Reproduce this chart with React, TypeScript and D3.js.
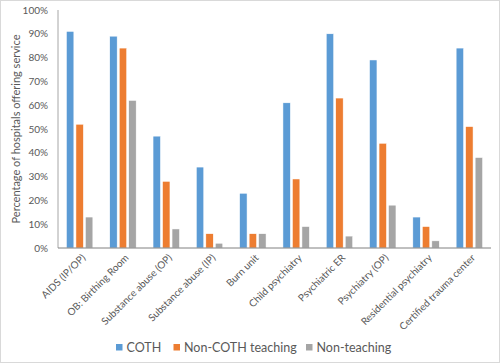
import React, { useRef, useEffect } from 'react';
import * as d3 from 'd3';

const categories = [
  'AIDS (IP/OP)',
  'OB: Birthing Room',
  'Substance abuse (OP)',
  'Substance abuse (IP)',
  'Burn unit',
  'Child psychiatry',
  'Psychiatric ER',
  'Psychiatry (OP)',
  'Residential psychiatry',
  'Certified trauma center',
];
const seriesNames = ['COTH', 'Non-COTH teaching', 'Non-teaching'];
const coth = [91, 89, 47, 34, 23, 61, 90, 79, 13, 84];
const nonCothTeaching = [52, 84, 28, 6, 6, 29, 63, 44, 9, 51];
const nonTeaching = [13, 62, 8, 2, 6, 9, 5, 18, 3, 38];
const yTicks = [0, 10, 20, 30, 40, 50, 60, 70, 80, 90, 100];
const colours = ['#5B9BD5', '#ED7D31', '#A5A5A5'];

const W = 500;
const H = 363;
const FONT = 'Lato, "Open Sans", sans-serif';

const Chart: React.FC = () => {
  const ref = useRef<SVGSVGElement | null>(null);

  useEffect(() => {
    if (!ref.current) return;
    document.body.style.margin = '0';
    const svg = d3.select(ref.current);
    svg.selectAll('*').remove();

    const left = 58;
    const right = 491;
    const top = 10;
    const bottom = 248;

    // chart frame
    svg.append('rect')
      .attr('x', 0.5).attr('y', 0.5)
      .attr('width', W - 1).attr('height', H - 1)
      .attr('fill', '#fff').attr('stroke', '#d9d9d9');

    const x = d3.scaleBand<string>().domain(categories).range([left, right]).paddingInner(0).paddingOuter(0);
    const y = d3.scaleLinear().domain([0, 100]).range([bottom, top]);
    const barW = 7.4;
    const step = 9.5;

    const series = [coth, nonCothTeaching, nonTeaching];
    const g = svg.append('g');
    series.forEach((vals, si) => {
      g.selectAll(`rect.s${si}`)
        .data(vals)
        .enter()
        .append('rect')
        .attr('class', `s${si}`)
        .attr('x', (_, i) => x(categories[i])! + x.bandwidth() / 2 - step - barW / 2 + si * step)
        .attr('y', d => y(d))
        .attr('width', barW)
        .attr('height', d => bottom - y(d))
        .attr('fill', colours[si])
        .attr('stroke', '#fff')
        .attr('stroke-width', 0.5);
    });

    // axes lines
    svg.append('line')
      .attr('x1', left).attr('x2', left).attr('y1', top).attr('y2', bottom)
      .attr('stroke', '#a6a6a6');
    svg.append('line')
      .attr('x1', left).attr('x2', right).attr('y1', bottom).attr('y2', bottom)
      .attr('stroke', '#808080');

    // y ticks
    svg.selectAll('text.ytick')
      .data(yTicks)
      .enter()
      .append('text')
      .attr('class', 'ytick')
      .attr('x', 48)
      .attr('y', d => y(d))
      .attr('dy', '0.35em')
      .attr('text-anchor', 'end')
      .style('font-family', FONT)
      .style('font-size', '10px')
      .style('fill', '#595959')
      .text(d => `${d}%`);

    // y title
    svg.append('text')
      .attr('transform', `translate(20,${(top + bottom) / 2}) rotate(-90)`)
      .attr('text-anchor', 'middle')
      .style('font-family', FONT)
      .style('font-size', '11px')
      .style('fill', '#595959')
      .text('Percentage of hospitals offering service');

    // x labels
    svg.selectAll('text.xlab')
      .data(categories)
      .enter()
      .append('text')
      .attr('class', 'xlab')
      .attr('transform', d => `translate(${x(d)! + x.bandwidth() / 2 + 4},${bottom + 8}) rotate(-45)`)
      .attr('text-anchor', 'end')
      .attr('dy', '0.35em')
      .style('font-family', FONT)
      .style('font-size', '10px')
      .style('fill', '#595959')
      .text(d => d);

    // legend
    const legendX = [116, 173.5, 306];
    const lg = svg.append('g');
    seriesNames.forEach((name, i) => {
      lg.append('rect')
        .attr('x', legendX[i]).attr('y', 344)
        .attr('width', 6.5).attr('height', 6.5)
        .attr('fill', colours[i]);
      lg.append('text')
        .attr('x', legendX[i] + 10.5).attr('y', 347.5)
        .attr('dy', '0.35em')
        .style('font-family', FONT)
        .style('font-size', '12.5px')
        .style('fill', '#595959')
        .text(name);
    });
  }, []);

  return <svg ref={ref} width={W} height={H} style={{ display: 'block' }} />;
};

export default function App() {
  return <Chart />;
}
